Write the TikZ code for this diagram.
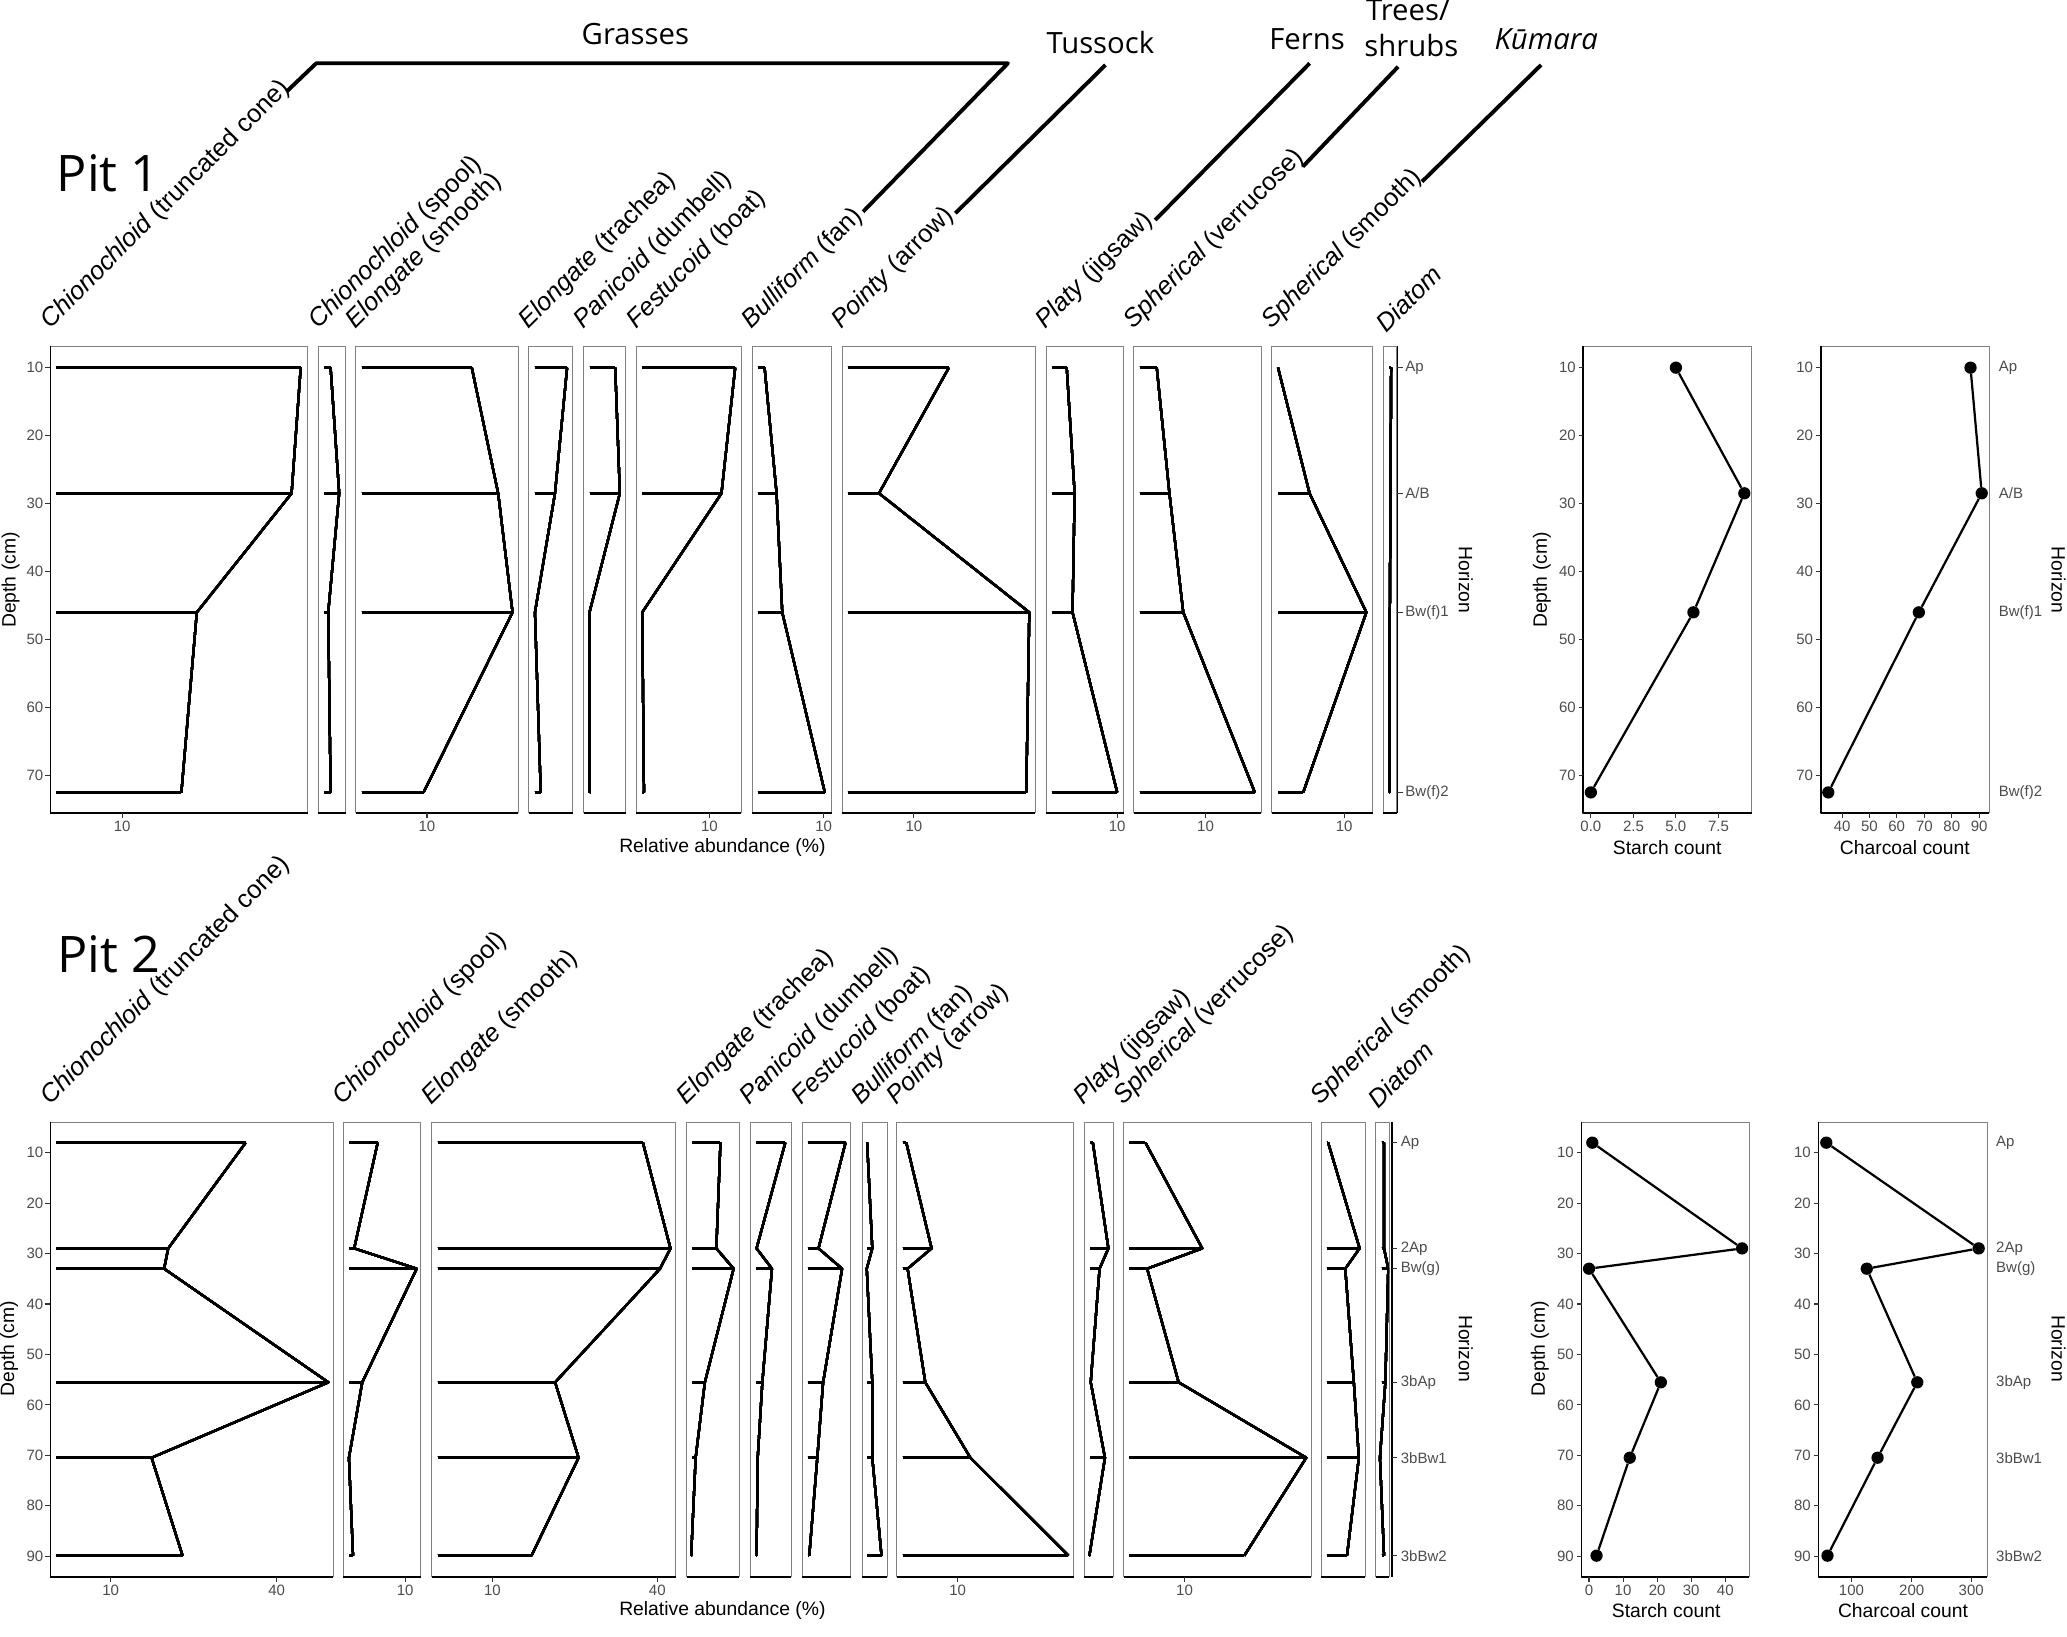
\documentclass[tikz,border=0pt]{standalone}
\usepackage{fontspec}
\setmainfont{Liberation Sans}
\newfontfamily\headfont{Open Sans}
\begin{document}
\begin{tikzpicture}[x=0.3955mm,y=-0.3955mm,line join=round,
  pframe/.style={draw=black!50,line width=0.6pt},
  axisline/.style={line width=1.6pt},
  bar/.style={line width=2.5pt},
  prof/.style={line width=1.9pt},
  tck/.style={line width=0.9pt,black!80},
  lab/.style={inner sep=0pt,text=black!70,font=\fontsize{12.8}{15}\selectfont},
  ttl/.style={inner sep=0pt,font=\fontsize{16.5}{19}\selectfont},
  taxon/.style={inner sep=0pt,rotate=45,anchor=south west,font=\fontsize{21.7}{26}\selectfont},
  grp/.style={inner sep=0pt,anchor=base,font=\headfont\fontsize{25}{30}\selectfont},
  pit/.style={inner sep=0pt,anchor=base west,font=\headfont\fontsize{43}{50}\selectfont},
  link/.style={line width=3.3pt},
  dot/.style={circle,fill,inner sep=0pt,minimum size=10.5pt}]
\useasboundingbox (0,0) rectangle (1568,1241.8);
\def\taxname#1{\ifcase#1\or\textit{Chionochloid} (truncated cone)\or\textit{Chionochloid} (spool)\or
  \textit{Elongate} (smooth)\or\textit{Elongate} (trachea)\or\textit{Panicoid} (dumbell)\or
  \textit{Festucoid} (boat)\or\textit{Bulliform} (fan)\or\textit{Pointy} (arrow)\or
  \textit{Platy} (jigsaw)\or\textit{Spherical} (verrucose)\or\textit{Spherical} (smooth)\or\textit{Diatom}\fi}
\def\hAB{A/B}
\def\pbox#1#2{\draw[pframe] (#1,\ptop) rectangle (#2,\pbot); \draw[axisline] (#1,\pbot) -- (#2,\pbot);}
\def\stratA#1#2#3#4#5{\foreach \v/\y in {#2/\ya,#3/\yb,#4/\yc,#5/\yd} \draw[bar] (#1,\y) -- (\v,\y);
  \draw[prof] (#2,\ya) -- (#3,\yb) -- (#4,\yc) -- (#5,\yd);}
\def\stratB#1#2#3#4#5#6#7{\foreach \v/\y in {#2/\yA,#3/\yB,#4/\yC,#5/\yD,#6/\yE,#7/\yF} \draw[bar] (#1,\y) -- (\v,\y);
  \draw[prof] (#2,\yA) -- (#3,\yB) -- (#4,\yC) -- (#5,\yD) -- (#6,\yE) -- (#7,\yF);}
\def\dA#1{278.9+(#1-10)*5.16}
\def\dB#1{874.4+(#1-10)*3.826}

% groups
\node[grp] (grasses) at (482,34.1) {Grasses};
\node[grp] (tussock) at (834.7,40.5) {Tussock};
\node[grp] (ferns) at (991.5,37.9) {Ferns};
\node[grp] (trees) at (1068,15.2) {Trees/};
\node[grp] (shrubs) at (1070.6,43) {shrubs};
\node[grp] (kumara) at (1173,37.9) {\itshape Kūmara};
\coordinate (gr1) at (217.4,69.5); \coordinate (gr2) at (239.9,48);
\coordinate (gr3) at (764.6,48); \coordinate (gr4) at (654.7,160.6);
\coordinate (tu1) at (838.6,49.3); \coordinate (tu2) at (724.7,161.8);
\coordinate (fe1) at (993.5,48); \coordinate (fe2) at (876.3,166.9);
\coordinate (tr1) at (1060.6,50.6); \coordinate (tr2) at (988.3,126.4);
\coordinate (ku1) at (1169,49.3); \coordinate (ku2) at (1078.7,137.8);
\draw[link] (gr1) -- (gr2) -- (gr3) -- (gr4);
\draw[link] (tu1) -- (tu2);
\draw[link] (fe1) -- (fe2);
\draw[link] (tr1) -- (tr2);
\draw[link] (ku1) -- (ku2);

% pit 1
\node[pit] (pitA) at (43,145.4) {Pit 1};
\def\ptop{262.5}\def\pbot{616.5}
\def\ya{278.9}\def\yb{374.2}\def\yc{464.5}\def\yd{601.1}
\foreach \l [count=\i] in {38.3,241.6,269.9,401.0,442.8,482.8,570.4,638.7,793.5,860.0,964.7,1049.3}
  \node[taxon] (ta\i) at (\l+2.5,253) {\taxname{\i}};
\foreach \l/\r in {38.3/233.4,241.6/262.1,269.9/393.2,401.0/434.5,442.8/474.6,482.8/562.1,
  570.4/630.9,638.7/785.5,793.5/852.3,860.0/956.7,964.7/1041.3,1049.3/1059.5} \pbox{\l}{\r}
\stratA{42.8}{228.1}{221.2}{149.3}{137.6}
\stratA{246.1}{250.8}{257.3}{249.0}{250.8}
\stratA{274.4}{357.9}{377.9}{388.8}{321.3}
\stratA{405.5}{430.2}{421.0}{405.8}{410.2}
\stratA{447.3}{466.7}{470.2}{447.2}{447.2}
\stratA{487.3}{557.7}{547.3}{487.2}{488.5}
\stratA{574.9}{580.0}{589.1}{593.4}{625.7}
\stratA{643.2}{719.8}{666.8}{780.8}{778.5}
\stratA{798.0}{809.2}{815.2}{813.6}{847.5}
\stratA{864.5}{877.5}{887.1}{897.6}{951.9}
\stratA{969.5}{969.5}{993.4}{1036.5}{988.6}
\stratA{1053.8}{1055.3}{1054.8}{1054.3}{1054.3}
\draw[axisline] (38.3,\ptop) -- (38.3,\pbot);
\foreach \d in {10,20,...,70} {\draw[tck] (34.5,{\dA{\d}}) -- (38.3,{\dA{\d}});
  \node[lab,anchor=east] (da\d) at (33,{\dA{\d}}) {\d};}
\foreach \x [count=\i] in {92.7,323.9,538.2,624.8,693.3,847.5,914.5,1019.6} {\draw[tck] (\x,\pbot) -- (\x,620.5);
  \node[lab,anchor=north] (xa\i) at (\x,622.5) {10};}
\draw[axisline] (1060.1,\ptop) -- (1060.1,\pbot);
\foreach \y/\h [count=\i] in {\ya/Ap,\yb/\hAB,\yc/Bw(f)1,\yd/Bw(f)2} {\draw[tck] (1060.1,\y) -- (1064,\y);
  \node[lab,anchor=west] (ha\i) at (1066,\y) {\h};}
\node[ttl,rotate=90] (depA) at (8,440) {Depth (cm)};
\node[ttl] (relA) at (548,643) {Relative abundance (\%)};
\node[ttl,rotate=-90] (horA) at (1112,440) {Horizon};
% pit 1 starch and charcoal
\draw[pframe] (1201.1,\ptop) rectangle (1328.9,\pbot);
\draw[axisline] (1201.1,\ptop) -- (1201.1,\pbot) -- (1328.9,\pbot);
\draw[pframe] (1381.2,\ptop) rectangle (1508.9,\pbot);
\draw[axisline] (1381.2,\ptop) -- (1381.2,\pbot) -- (1508.9,\pbot);
\foreach \d in {10,20,...,70} {\draw[tck] (1197.5,{\dA{\d}}) -- (1201.1,{\dA{\d}});
  \node[lab,anchor=east] (sya\d) at (1195.5,{\dA{\d}}) {\d};
  \draw[tck] (1377.6,{\dA{\d}}) -- (1381.2,{\dA{\d}});
  \node[lab,anchor=east] (cya\d) at (1375.5,{\dA{\d}}) {\d};}
\foreach \x/\t [count=\i] in {1206.8/0.0,1239.2/2.5,1271.3/5.0,1303.6/7.5} {\draw[tck] (\x,\pbot) -- (\x,620.5);
  \node[lab,anchor=north] (sxa\i) at (\x,622.5) {\t};}
\foreach \x/\t in {1397.4/40,1418.1/50,1438.8/60,1459.8/70,1480.6/80,1501.3/90} {\draw[tck] (\x,\pbot) -- (\x,620.5);
  \node[lab,anchor=north] (cxa\t) at (\x,622.5) {\t};}
\foreach \x/\y [count=\i] in {1271.3/\ya,1323.2/\yb,1284.6/\yc,1206.8/\yd} \node[dot] (sa\i) at (\x,\y) {};
\foreach \x/\y [count=\i] in {1494.8/\ya,1503.3/\yb,1455.6/\yc,1386.9/\yd} \node[dot] (ca\i) at (\x,\y) {};
\draw[prof] (sa1) -- (sa2) -- (sa3) -- (sa4);
\draw[prof] (ca1) -- (ca2) -- (ca3) -- (ca4);
\foreach \y/\h [count=\i] in {\ya/Ap,\yb/\hAB,\yc/Bw(f)1,\yd/Bw(f)2}
  \node[lab,anchor=west] (hca\i) at (1516.1,\y) {\h};
\node[ttl,rotate=90] (depSA) at (1169.6,440) {Depth (cm)};
\node[ttl] (stA) at (1264.7,643) {Starch count};
\node[ttl] (chA) at (1445,643) {Charcoal count};
\node[ttl,rotate=-90] (horCA) at (1561.5,440) {Horizon};

% pit 2
\node[pit] (pitB) at (43.5,737.9) {Pit 2};
\def\ptop{851.4}\def\pbot{1196.1}
\def\yA{866.8}\def\yB{947.0}\def\yC{962.4}\def\yD{1048.6}\def\yE{1105.8}\def\yF{1180.1}
\foreach \l [count=\i] in {38.3,260.4,327.4,520.8,569.1,608.3,654.0,680.2,822.6,852.3,1002.0,1043.5}
  \node[taxon] (tb\i) at (\l+2.5,842) {\taxname{\i}};
\foreach \l/\r in {38.3/252.5,260.4/319.2,327.4/512.5,520.8/560.8,569.1/600.0,608.3/645.3,
  654.0/673.2,680.2/814.6,822.6/844.3,852.3/994.4,1002.0/1035.6,1043.5/1053.8} \pbox{\l}{\r}
\stratB{42.8}{186.4}{127.6}{124.5}{249.1}{115.0}{138.5}
\stratB{264.9}{286.5}{268.7}{316.1}{274.8}{264.7}{267.8}
\stratB{331.9}{487.7}{508.6}{500.7}{421.1}{438.9}{403.2}
\stratB{525.3}{546.5}{543.4}{556.5}{534.7}{527.7}{524.3}
\stratB{573.6}{595.7}{573.9}{585.6}{578.3}{574.8}{573.9}
\stratB{612.8}{641.4}{620.9}{638.8}{624.4}{620.0}{613.9}
\stratB{657.8}{657.8}{661.7}{657.5}{661.7}{661.7}{668.7}
\stratB{684.7}{687.5}{706.7}{688.5}{701.9}{736.1}{810.5}
\stratB{827.1}{829.0}{840.8}{834.1}{827.4}{838.2}{826.4}
\stratB{856.8}{868.9}{912.0}{870.2}{894.1}{990.9}{943.9}
\stratB{1006.5}{1007.5}{1031.4}{1020.5}{1027.0}{1030.8}{1021.8}
\stratB{1048.0}{1049.9}{1049.9}{1053.1}{1050.9}{1046.8}{1049.9}
\draw[axisline] (38.3,\ptop) -- (38.3,\pbot);
\foreach \d in {10,20,...,90} {\draw[tck] (34.5,{\dB{\d}}) -- (38.3,{\dB{\d}});
  \node[lab,anchor=east] (db\d) at (33,{\dB{\d}}) {\d};}
\foreach \x/\t [count=\i] in {84.0/10,209.9/40,307.4/10,373.6/10,498.6/40,726.5/10,898.6/10} {\draw[tck] (\x,\pbot) -- (\x,1200.1);
  \node[lab,anchor=north] (xb\i) at (\x,1202.1) {\t};}
\draw[axisline] (1056,\ptop) -- (1056,\pbot);
\foreach \y/\h [count=\i] in {\yA/Ap,\yB/2Ap,\yC/Bw(g),\yD/3bAp,\yE/3bBw1,\yF/3bBw2} {\draw[tck] (1056,\y) -- (1060,\y);
  \node[lab,anchor=west] (hb\i) at (1062.5,\y) {\h};}
\node[ttl,rotate=90] (depB) at (7,1023) {Depth (cm)};
\node[ttl] (relB) at (548,1221.4) {Relative abundance (\%)};
\node[ttl,rotate=-90] (horB) at (1112,1023) {Horizon};
% pit 2 starch and charcoal
\draw[pframe] (1199.7,\ptop) rectangle (1326.9,\pbot);
\draw[axisline] (1199.7,\ptop) -- (1199.7,\pbot) -- (1326.9,\pbot);
\draw[pframe] (1379.5,\ptop) rectangle (1507.3,\pbot);
\draw[axisline] (1379.5,\ptop) -- (1379.5,\pbot) -- (1507.3,\pbot);
\foreach \d in {10,20,...,90} {\draw[tck] (1196.1,{\dB{\d}}) -- (1199.7,{\dB{\d}});
  \node[lab,anchor=east] (syb\d) at (1194,{\dB{\d}}) {\d};
  \draw[tck] (1375.9,{\dB{\d}}) -- (1379.5,{\dB{\d}});
  \node[lab,anchor=east] (cyb\d) at (1373.8,{\dB{\d}}) {\d};}
\foreach \x/\t in {1205.4/0,1231.2/10,1257.1/20,1282.9/30,1308.8/40} {\draw[tck] (\x,\pbot) -- (\x,1200.1);
  \node[lab,anchor=north] (sxb\t) at (\x,1202.1) {\t};}
\foreach \x/\t in {1404.5/100,1450.2/200,1495.3/300} {\draw[tck] (\x,\pbot) -- (\x,1200.1);
  \node[lab,anchor=north] (cxb\t) at (\x,1202.1) {\t};}
\foreach \x/\y [count=\i] in {1207.9/\yA,1321.5/\yB,1205.4/\yC,1259.9/\yD,1236.3/\yE,1211.1/\yF} \node[dot] (sb\i) at (\x,\y) {};
\foreach \x/\y [count=\i] in {1385.4/\yA,1501.0/\yB,1416.1/\yC,1454.4/\yD,1424.3/\yE,1386.3/\yF} \node[dot] (cb\i) at (\x,\y) {};
\draw[prof] (sb1) -- (sb2) -- (sb3) -- (sb4) -- (sb5) -- (sb6);
\draw[prof] (cb1) -- (cb2) -- (cb3) -- (cb4) -- (cb5) -- (cb6);
\foreach \y/\h [count=\i] in {\yA/Ap,\yB/2Ap,\yC/Bw(g),\yD/3bAp,\yE/3bBw1,\yF/3bBw2}
  \node[lab,anchor=west] (hcb\i) at (1514.1,\y) {\h};
\node[ttl,rotate=90] (depSB) at (1168.2,1023) {Depth (cm)};
\node[ttl] (stB) at (1263.9,1221.4) {Starch count};
\node[ttl] (chB) at (1443.6,1221.4) {Charcoal count};
\node[ttl,rotate=-90] (horCB) at (1561.5,1023) {Horizon};
\end{tikzpicture}
\end{document}
